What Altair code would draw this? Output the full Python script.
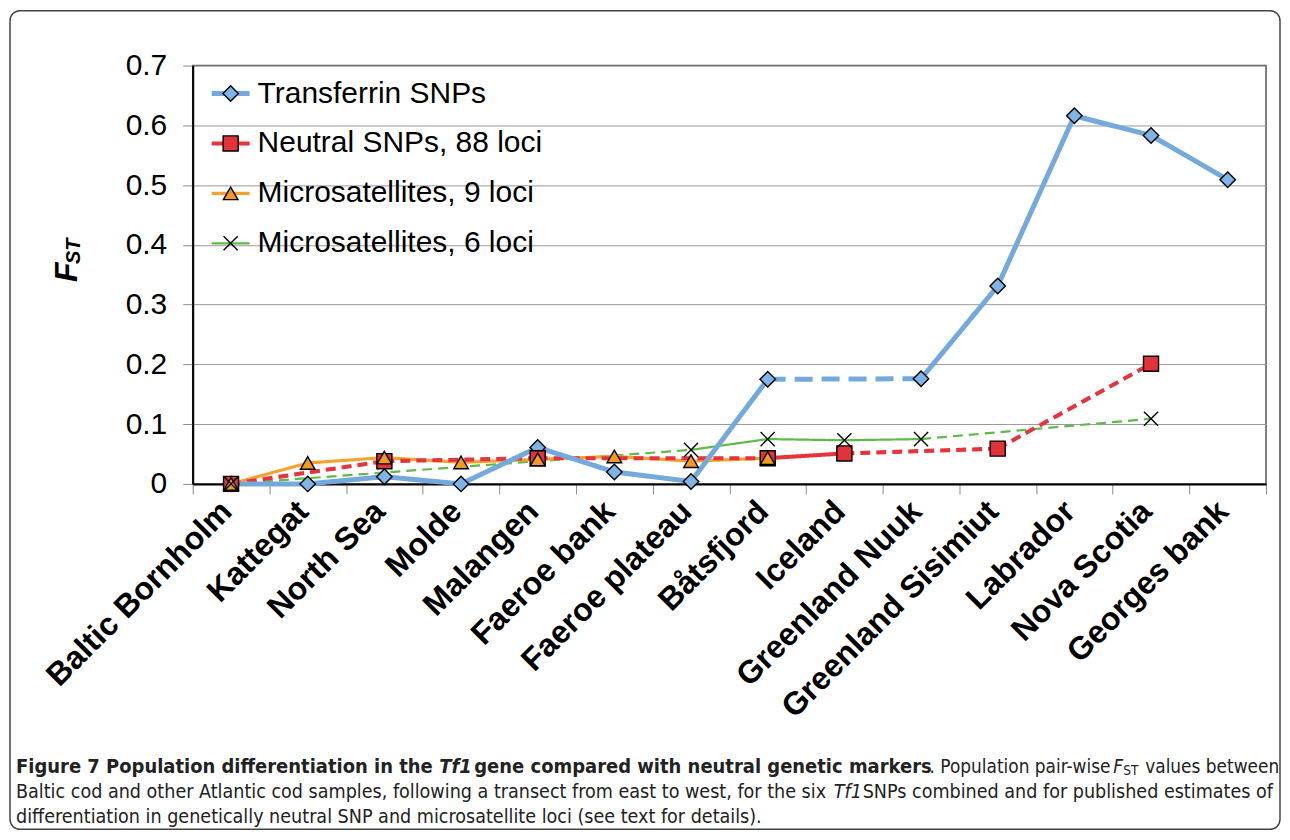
import altair as alt
import pandas as pd

# ---------------- data ----------------
categories = ["Baltic Bornholm", "Kattegat", "North Sea", "Molde", "Malangen",
              "Faeroe bank", "Faeroe plateau", "Båtsfjord", "Iceland",
              "Greenland Nuuk", "Greenland Sisimiut", "Labrador", "Nova Scotia",
              "Georges bank"]
series_names = ["Transferrin SNPs", "Neutral SNPs, 88 loci",
                "Microsatellites, 9 loci", "Microsatellites, 6 loci"]
transferrin = [0.0, 0.0, 0.012, 0.0, 0.061, 0.020, 0.004, 0.175, None, 0.176,
               0.331, 0.616, 0.583, 0.509]
neutral = [0.0, None, 0.038, None, 0.043, None, None, 0.043, 0.051, None,
           0.059, None, 0.201, None]
micro9 = [0.0, 0.035, 0.044, 0.036, 0.041, 0.046, 0.038, 0.043, None, None,
          None, None, None, None]
micro6 = [0.0, None, None, None, None, None, 0.057, 0.075, 0.073, 0.075,
          None, None, 0.109, None]
y_ticks = [0, 0.1, 0.2, 0.3, 0.4, 0.5, 0.6, 0.7]

caption_texts = [
    ["Figure 7 Population differentiation in the", "Tf1",
     "gene compared with neutral genetic markers", ". Population pair-wise",
     "F", "ST", "values between"],
    ["Baltic cod and other Atlantic cod samples, following a transect from east to west, for the six",
     "Tf1", "SNPs combined and for published estimates of"],
    ["differentiation in genetically neutral SNP and microsatellite loci (see text for details)."],
]
y_title_parts = ["F", "ST"]

# ---------------- styles / layout ----------------
line_colors = ["#74a9dc", "#e5343b", "#f7a22d", "#5dbb47"]
fill_colors = ["#80b3e6", "#e1333a", "#f29b1f", "#5dbb47"]
shapes = ["diamond", "square", "triangle-up", "M-1,-1L1,1M-1,1L1,-1"]
marker_sizes = [240, 200, 90, 90]
line_widths = [5, 2.2, 3, 2.4]
FONT = "Liberation Sans, Arial, sans-serif"
CAP_FONT = "DejaVu Sans Condensed, Liberation Sans, sans-serif"

W, H = 1075, 419
LEG_ROWS = [28, 178]          # pixel range of the legend rows (inside plot)
LEG_LINE = (19, 57)           # legend line start / end (px)
LEG_MARK = 38                 # legend marker x (px)
LEG_TEXT = 65                 # legend label x (px)

# caption segment layout: (x, y, size, weight, style)
caption_layout = [
    [(-177, 703, 20, "bold", "normal"), (247, 703, 20, "bold", "italic"),
     (282, 703, 20, "bold", "normal"), (738, 703, 18.9, "normal", "normal"),
     (922, 703, 18.9, "normal", "italic"), (932, 707, 13.5, "normal", "normal"),
     (954, 703, 18.9, "normal", "normal")],
    [(-177, 728, 19.6, "normal", "normal"), (642, 728, 19.6, "normal", "italic"),
     (671, 728, 19.6, "normal", "normal")],
    [(-177, 753, 19.6, "normal", "normal")],
]

# ---------------- build tables ----------------
all_vals = [transferrin, neutral, micro9, micro6]
pt_rows, seg_rows = [], []
for s, vals in zip(series_names, all_vals):
    idx = [i for i, v in enumerate(vals) if v is not None]
    for i in idx:
        pt_rows.append({"series": s, "cat": categories[i], "v": vals[i]})
for s, vals in reversed(list(zip(series_names, all_vals))):
    idx = [i for i, v in enumerate(vals) if v is not None]
    for a, b in zip(idx, idx[1:]):
        if b == a + 1:
            style = "solid"
        else:
            style = "dash_thick" if s == series_names[0] else "dash_thin"
        for k in (a, b):
            seg_rows.append({"series": s, "seg": f"{s}-{a}", "style": style,
                             "cat": categories[k], "v": vals[k]})
pts_df = pd.DataFrame(pt_rows)
seg_df = pd.DataFrame(seg_rows)
leg_df = pd.DataFrame({"series": series_names})
one = pd.DataFrame({"a": [0]})

x_scale = alt.Scale(type="band", domain=categories, paddingInner=0, paddingOuter=0)
y_scale = alt.Scale(domain=[0, 0.7], nice=False, zero=True)
color_scale = alt.Scale(domain=series_names, range=line_colors)
width_scale = alt.Scale(domain=series_names, range=line_widths)
shape_scale = alt.Scale(domain=series_names, range=shapes)
fill_scale = alt.Scale(domain=series_names, range=fill_colors)
size_scale = alt.Scale(domain=series_names, range=marker_sizes)
leg_y_scale = alt.Scale(type="point", domain=series_names, range=LEG_ROWS, padding=0)

x_axis = alt.Axis(title=None, tickBand="extent", grid=False, labelAngle=315,
                  labelAlign="right", labelBaseline="middle", labelFont=FONT,
                  labelFontSize=32, labelFontWeight="bold", labelColor="black",
                  labelPadding=12, labelOffset=-5, tickSize=10,
                  tickColor="#8a8a8a", domainColor="black", domainWidth=2,
                  labelLimit=500)
y_axis = alt.Axis(title=None, values=y_ticks, format=".1~f", grid=True,
                  gridColor="#9a9a9a", gridWidth=1, labelFont=FONT,
                  labelFontSize=30, labelColor="black", labelPadding=16,
                  tickSize=10, tickColor="#8a8a8a", domainColor="black",
                  domainWidth=2)

frame = alt.Chart(one).mark_rect(fillOpacity=0, stroke="#444", strokeWidth=1.5,
                                 cornerRadius=10).encode(
    x=alt.value(-183), x2=alt.value(1089), y=alt.value(-55), y2=alt.value(765))

lines = alt.Chart(seg_df).mark_line(strokeCap="butt", strokeJoin="round").encode(
    x=alt.X("cat:N", scale=x_scale, sort=categories, axis=x_axis),
    y=alt.Y("v:Q", scale=y_scale, axis=y_axis),
    color=alt.Color("series:N", scale=color_scale, legend=None),
    strokeWidth=alt.StrokeWidth("series:N", scale=width_scale, legend=None),
    strokeDash=alt.StrokeDash("style:N",
                              scale=alt.Scale(domain=["solid", "dash_thick", "dash_thin"],
                                              range=[[1, 0], [18, 9], [10, 6]]),
                              legend=None),
    detail="seg:N",
)

points = alt.Chart(pts_df).mark_point(filled=True, stroke="black", strokeWidth=1.4,
                                      opacity=1).encode(
    x=alt.X("cat:N", scale=x_scale, sort=categories, axis=x_axis),
    y=alt.Y("v:Q", scale=y_scale, axis=None),
    shape=alt.Shape("series:N", scale=shape_scale, legend=None),
    fill=alt.Fill("series:N", scale=fill_scale, legend=None),
    size=alt.Size("series:N", scale=size_scale, legend=None),
)

# legend (drawn inside the plot, top-left)
leg_lines = alt.Chart(leg_df).mark_rule(strokeCap="butt").encode(
    y=alt.Y("series:N", scale=leg_y_scale, axis=None),
    x=alt.value(LEG_LINE[0]), x2=alt.value(LEG_LINE[1]),
    color=alt.Color("series:N", scale=color_scale, legend=None),
    strokeWidth=alt.StrokeWidth("series:N", scale=width_scale, legend=None),
)
leg_marks = alt.Chart(leg_df).mark_point(filled=True, stroke="black", strokeWidth=1.4,
                                         opacity=1).encode(
    y=alt.Y("series:N", scale=leg_y_scale, axis=None),
    x=alt.value(LEG_MARK),
    shape=alt.Shape("series:N", scale=shape_scale, legend=None),
    fill=alt.Fill("series:N", scale=fill_scale, legend=None),
    size=alt.Size("series:N", scale=size_scale, legend=None),
)
leg_text = alt.Chart(leg_df).mark_text(align="left", baseline="middle", font=FONT,
                                       fontSize=30, color="black").encode(
    y=alt.Y("series:N", scale=leg_y_scale, axis=None),
    x=alt.value(LEG_TEXT),
    text="series:N",
)

# y-axis title F_ST (rotated)
ytitle_F = alt.Chart(one).mark_text(angle=270, font=FONT, fontSize=32,
                                    fontWeight="bold", fontStyle="italic",
                                    align="center", baseline="alphabetic",
                                    color="black").encode(
    x=alt.value(-116), y=alt.value(207), text=alt.value(y_title_parts[0]))
ytitle_ST = alt.Chart(one).mark_text(angle=270, font=FONT, fontSize=20,
                                     fontWeight="bold", fontStyle="italic",
                                     align="center", baseline="alphabetic",
                                     color="black").encode(
    x=alt.value(-113), y=alt.value(186), text=alt.value(y_title_parts[1]))

caption_layers = []
for texts, lays in zip(caption_texts, caption_layout):
    for t, (px, py, fs, fw, fst) in zip(texts, lays):
        caption_layers.append(
            alt.Chart(one).mark_text(align="left", baseline="middle", font=CAP_FONT,
                                     fontSize=fs, fontWeight=fw, fontStyle=fst,
                                     color="#222").encode(
                x=alt.value(px), y=alt.value(py), text=alt.value(t)))

chart = alt.layer(frame, lines, points, leg_lines, leg_marks, leg_text,
                  ytitle_F, ytitle_ST, *caption_layers).resolve_scale(
    y="independent"
).properties(
    width=W, height=H,
    autosize=alt.AutoSizeParams(type="none"),
    padding={"left": 185, "top": 57, "right": 16, "bottom": 350},
    background="white",
).configure_view(stroke="#555", strokeWidth=1.5)

chart.save("out.html", embed_options={"renderer": "svg", "actions": False})
